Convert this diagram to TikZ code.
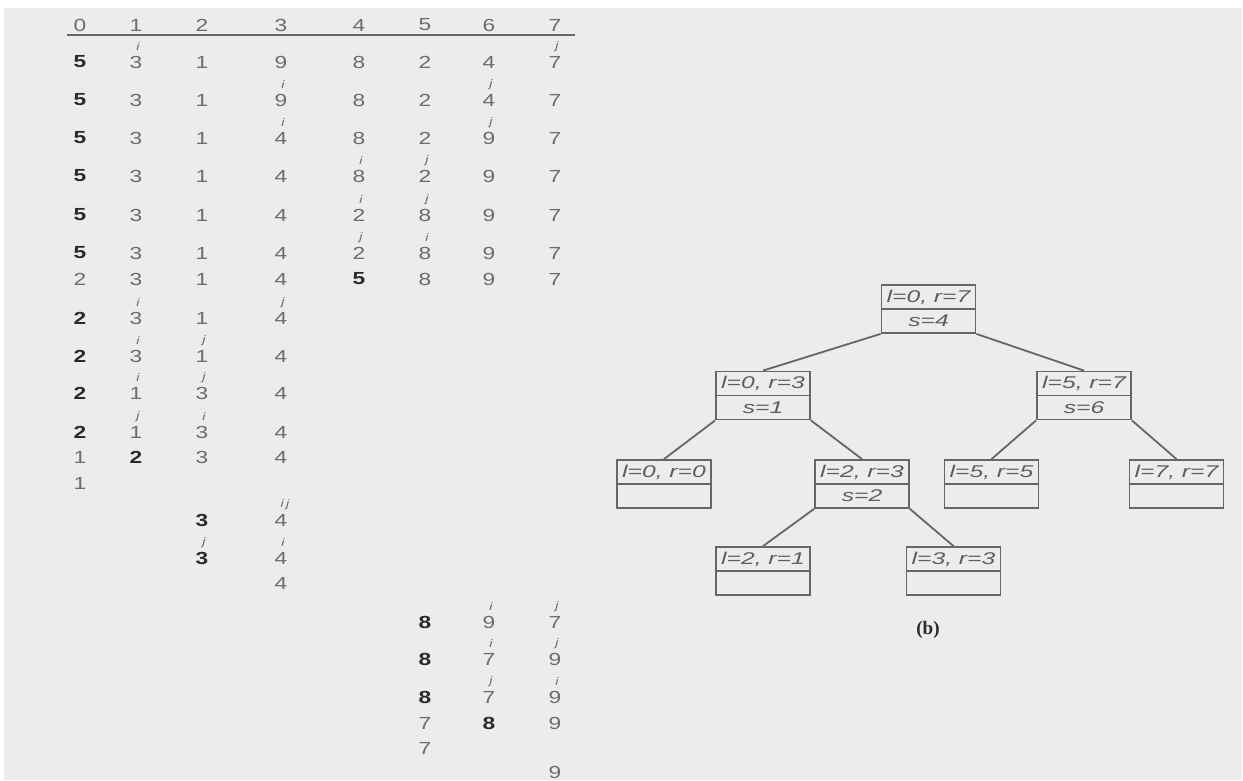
\documentclass[tikz,border=0pt]{standalone}
\usepackage{fontspec}
\newfontfamily\hv{Liberation Sans}
\newfontfamily\tms{Liberation Serif}
\definecolor{bgc}{HTML}{ECECEC}
\definecolor{digit}{HTML}{6C6C6C}
\definecolor{dark}{HTML}{2A2A2A}
\definecolor{tline}{HTML}{666666}
\definecolor{ttext}{HTML}{5E5E5E}
\newcommand\sx[1]{\scalebox{1.3}[1]{#1}}
\newcommand\sxt[1]{\scalebox{1.45}[1]{#1}}
\tikzset{
  dg/.style={font=\hv\fontsize{17.5}{19}\selectfont, text=digit, inner sep=0pt},
  bd/.style={font=\hv\bfseries\fontsize{17.5}{19}\selectfont, text=dark, inner sep=0pt},
  mk/.style={font=\hv\itshape\fontsize{11}{12}\selectfont, text=digit, inner sep=0pt},
  tbox/.style={draw=tline, line width=1.8pt, minimum width=94pt, minimum height=48pt, inner sep=0pt},
  tt/.style={font=\hv\itshape\fontsize{17}{19}\selectfont, text=ttext, inner sep=0pt},
  edge/.style={draw=tline, line width=1.8pt},
  hrule/.style={draw=tline, line width=1.8pt},
}
\newcommand\cell[4][dg]{%
  \pgfmathsetmacro\cx{{80,136,202,281,359,425,489,555}[#3]}%
  \pgfmathsetmacro\cy{{25,62,100,138,176,215,253,279,318,356,393,432,457,483,520,558,583,622,659,697,723,748,772}[#2]}%
  \node[#1] (r#2c#3) at (\cx,\cy) {\sx{#4}};}
\newcommand\ijm[3]{\node[mk] (m#1c#2) at ([xshift=2pt,yshift=15pt]r#1c#2.center) {\sx{#3}};}
\newcommand\tn[5]{%
  \node[tbox] (#1) at (#2,#3) {};
  \draw[edge] (#1.west) -- (#1.east);
  \node[tt] (#1t) at ([yshift=12pt]#1.center) {\sxt{#4}};
  \node[tt] (#1b) at ([yshift=-12pt]#1.center) {\sxt{#5}};}
\begin{document}
\begin{tikzpicture}[x=1pt,y=-1pt]
\useasboundingbox (0,0) rectangle (1243,780);
\fill[white] (0,0) rectangle (1243,780);
\fill[bgc] (4,8) rectangle (1242,780);
% header
\cell{0}{0}{0}\cell{0}{1}{1}\cell{0}{2}{2}\cell{0}{3}{3}\cell{0}{4}{4}\cell{0}{5}{5}\cell{0}{6}{6}\cell{0}{7}{7}
\coordinate (hl) at (67,35); \coordinate (hr) at (575,35);
\draw[hrule] (hl) -- (hr);
% row 1
\cell[bd]{1}{0}{5}\cell{1}{1}{3}\cell{1}{2}{1}\cell{1}{3}{9}\cell{1}{4}{8}\cell{1}{5}{2}\cell{1}{6}{4}\cell{1}{7}{7}
\ijm{1}{1}{i}\ijm{1}{7}{j}
% row 2
\cell[bd]{2}{0}{5}\cell{2}{1}{3}\cell{2}{2}{1}\cell{2}{3}{9}\cell{2}{4}{8}\cell{2}{5}{2}\cell{2}{6}{4}\cell{2}{7}{7}
\ijm{2}{3}{i}\ijm{2}{6}{j}
% row 3
\cell[bd]{3}{0}{5}\cell{3}{1}{3}\cell{3}{2}{1}\cell{3}{3}{4}\cell{3}{4}{8}\cell{3}{5}{2}\cell{3}{6}{9}\cell{3}{7}{7}
\ijm{3}{3}{i}\ijm{3}{6}{j}
% row 4
\cell[bd]{4}{0}{5}\cell{4}{1}{3}\cell{4}{2}{1}\cell{4}{3}{4}\cell{4}{4}{8}\cell{4}{5}{2}\cell{4}{6}{9}\cell{4}{7}{7}
\ijm{4}{4}{i}\ijm{4}{5}{j}
% row 5
\cell[bd]{5}{0}{5}\cell{5}{1}{3}\cell{5}{2}{1}\cell{5}{3}{4}\cell{5}{4}{2}\cell{5}{5}{8}\cell{5}{6}{9}\cell{5}{7}{7}
\ijm{5}{4}{i}\ijm{5}{5}{j}
% row 6
\cell[bd]{6}{0}{5}\cell{6}{1}{3}\cell{6}{2}{1}\cell{6}{3}{4}\cell{6}{4}{2}\cell{6}{5}{8}\cell{6}{6}{9}\cell{6}{7}{7}
\ijm{6}{4}{j}\ijm{6}{5}{i}
% row 7
\cell{7}{0}{2}\cell{7}{1}{3}\cell{7}{2}{1}\cell{7}{3}{4}\cell[bd]{7}{4}{5}\cell{7}{5}{8}\cell{7}{6}{9}\cell{7}{7}{7}
% rows 8-13
\cell[bd]{8}{0}{2}\cell{8}{1}{3}\cell{8}{2}{1}\cell{8}{3}{4}
\ijm{8}{1}{i}\ijm{8}{3}{j}
\cell[bd]{9}{0}{2}\cell{9}{1}{3}\cell{9}{2}{1}\cell{9}{3}{4}
\ijm{9}{1}{i}\ijm{9}{2}{j}
\cell[bd]{10}{0}{2}\cell{10}{1}{1}\cell{10}{2}{3}\cell{10}{3}{4}
\ijm{10}{1}{i}\ijm{10}{2}{j}
\cell[bd]{11}{0}{2}\cell{11}{1}{1}\cell{11}{2}{3}\cell{11}{3}{4}
\ijm{11}{1}{j}\ijm{11}{2}{i}
\cell{12}{0}{1}\cell[bd]{12}{1}{2}\cell{12}{2}{3}\cell{12}{3}{4}
\cell{13}{0}{1}
% rows 14-16
\cell[bd]{14}{2}{3}\cell{14}{3}{4}
\node[mk] (m14c3) at ([xshift=4pt,yshift=15pt]r14c3.center) {\sx{i\,j}};
\cell[bd]{15}{2}{3}\cell{15}{3}{4}
\ijm{15}{2}{j}\ijm{15}{3}{i}
\cell{16}{3}{4}
% rows 17-22
\cell[bd]{17}{5}{8}\cell{17}{6}{9}\cell{17}{7}{7}
\ijm{17}{6}{i}\ijm{17}{7}{j}
\cell[bd]{18}{5}{8}\cell{18}{6}{7}\cell{18}{7}{9}
\ijm{18}{6}{i}\ijm{18}{7}{j}
\cell[bd]{19}{5}{8}\cell{19}{6}{7}\cell{19}{7}{9}
\ijm{19}{6}{j}\ijm{19}{7}{i}
\cell{20}{5}{7}\cell[bd]{20}{6}{8}\cell{20}{7}{9}
\cell{21}{5}{7}
\cell{22}{7}{9}
% tree
\tn{root}{928.5}{309}{l=0, r=7}{s=4}
\tn{A}{763}{395.5}{l=0, r=3}{s=1}
\tn{B}{1084}{395.5}{l=5, r=7}{s=6}
\tn{C}{664}{484}{l=0, r=0}{}
\tn{D}{862}{484}{l=2, r=3}{s=2}
\tn{E}{991.5}{484}{l=5, r=5}{}
\tn{F}{1176.5}{484}{l=7, r=7}{}
\tn{G}{763}{571}{l=2, r=1}{}
\tn{H}{953.5}{571}{l=3, r=3}{}
\draw[edge] (root.south west) -- (A.north);
\draw[edge] (root.south east) -- (B.north);
\draw[edge] (A.south west) -- (C.north);
\draw[edge] (A.south east) -- (D.north);
\draw[edge] (B.south west) -- (E.north);
\draw[edge] (B.south east) -- (F.north);
\draw[edge] (D.south west) -- (G.north);
\draw[edge] (D.south east) -- (H.north);
\node[font=\tms\bfseries\fontsize{19}{21}\selectfont, text=dark, inner sep=0pt] (cap) at (928,630) {(b)};
\end{tikzpicture}
\end{document}
